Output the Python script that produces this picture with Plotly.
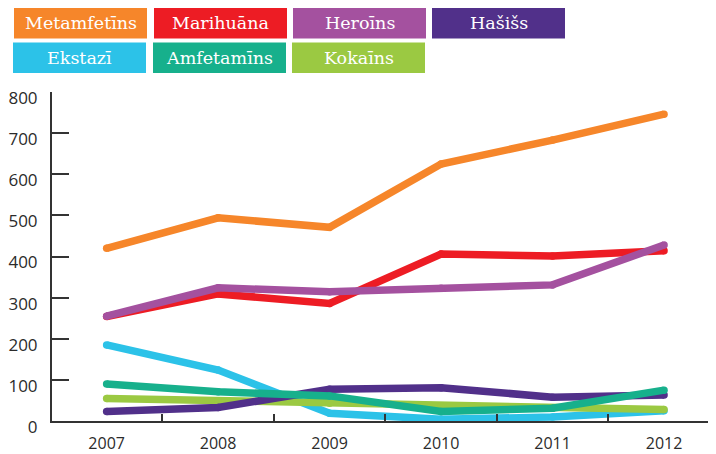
import plotly.graph_objects as go

years = ["2007", "2008", "2009", "2010", "2011", "2012"]

metamfetins = [420, 494, 471, 625, 683, 746]
marihuana = [254, 309, 286, 406, 401, 414]
heroins = [255, 324, 314, 323, 331, 428]
hasiss = [23, 33, 77, 81, 58, 63]
ekstazi = [185, 124, 19, 4, 10, 25]
amfetamins = [90, 71, 61, 23, 31, 75]
kokains = [55, 49, 43, 36, 31, 28]

names = ["Metamfetīns", "Marihuāna", "Heroīns", "Hašišs", "Ekstazī", "Amfetamīns", "Kokaīns"]
colors = ["#F6862A", "#ED1C24", "#A4519F", "#51308A", "#2CC2E8", "#17B08C", "#9BC942"]
values = [metamfetins, marihuana, heroins, hasiss, ekstazi, amfetamins, kokains]

# page body has an 8px margin, so the figure is drawn 8px smaller
# and every pixel position below is shifted by OFF
OFF = 8
W, H = 716 - OFF, 454 - OFF
L, R, T, B = 52 - OFF, 0, 92 - OFF, 454 - 421

fig = go.Figure()

# draw order: low lines first, orange on top
order = [4, 6, 3, 5, 1, 2, 0]
for i in order:
    fig.add_trace(go.Scatter(
        x=years, y=values[i], name=names[i], mode="lines+markers",
        line=dict(color=colors[i], width=7.5),
        marker=dict(color=colors[i], size=7.5),
        showlegend=False, hoverinfo="x+y+name",
    ))


def px_x(p):
    return (p - OFF - L) / (W - L - R)


def px_y(p):
    return (H - B - (p - OFF)) / (H - T - B)


# legend boxes (pixel positions in the reference)
boxes = [(14, 8), (154, 8), (293, 8), (432, 8), (13, 42.5), (153, 42.5), (292, 42.5)]
bw, bh = 133, 30.5
for (bx, by), name, col in zip(boxes, names, colors):
    fig.add_shape(type="rect", xref="paper", yref="paper",
                  x0=px_x(bx), x1=px_x(bx + bw), y0=px_y(by + bh), y1=px_y(by),
                  fillcolor=col, line=dict(width=0), layer="above")
    fig.add_annotation(xref="paper", yref="paper", x=px_x(bx + bw / 2), y=px_y(by + bh / 2),
                       text=name, showarrow=False, xanchor="center", yanchor="middle",
                       font=dict(family="DejaVu Serif", size=17.5, color="white"))

fig.update_layout(
    width=W, height=H,
    margin=dict(l=L, r=R, t=T, b=B, autoexpand=False),
    plot_bgcolor="white", paper_bgcolor="white",
    font=dict(family="Open Sans", color="#2b2b2b"),
)

fig.update_xaxes(
    type="category", range=[-0.49, 5.466],
    showline=True, linecolor="#333", linewidth=2,
    ticks="inside", tickson="boundaries", ticklen=7, tickwidth=1.5, tickcolor="#333",
    tickfont=dict(size=16), ticklabelstandoff=7,
    showgrid=False, zeroline=False,
)
fig.update_yaxes(
    range=[0, 800], tickvals=[0, 100, 200, 300, 400, 500, 600, 700, 800],
    showline=True, linecolor="#333", linewidth=2,
    ticks="inside", ticklen=17, tickwidth=2, tickcolor="#333",
    tickfont=dict(size=17), ticklabelstandoff=9, ticklabelshift=6,
    showgrid=False, zeroline=False,
)

fig.write_html("out.html")
